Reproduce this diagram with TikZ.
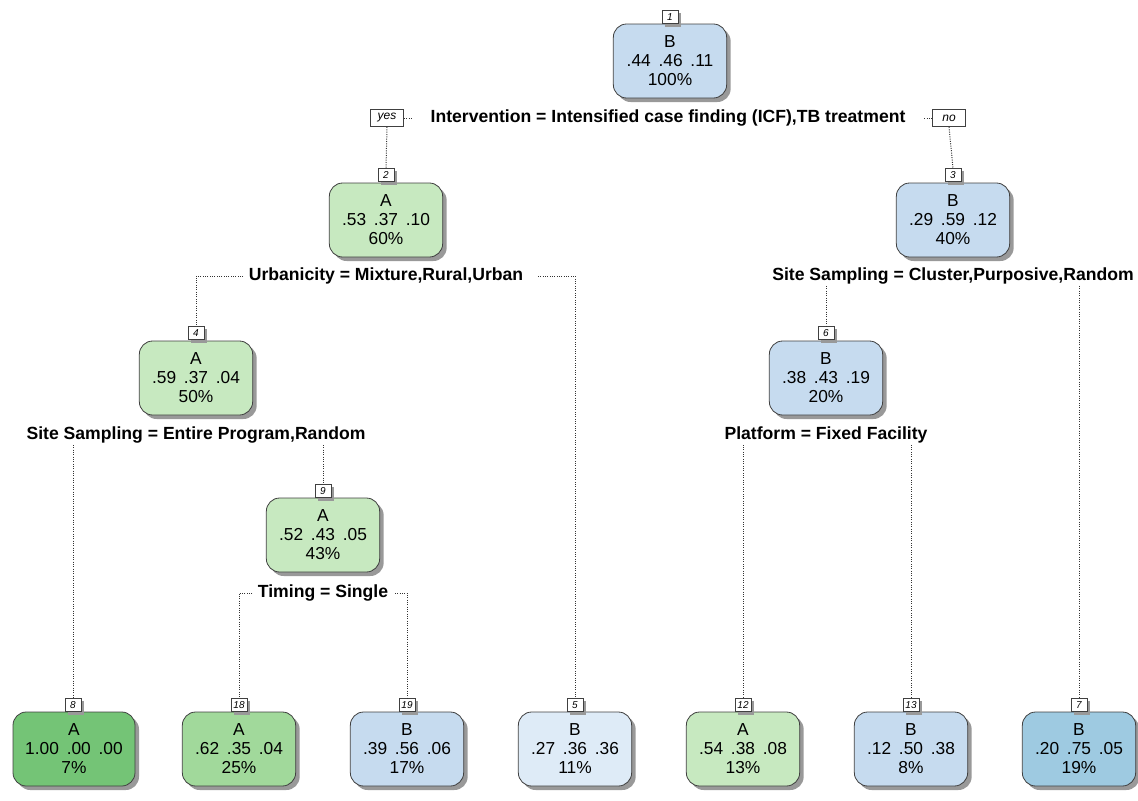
\documentclass[tikz,border=0pt]{standalone}
\usepackage{fontspec}
\setmainfont{Liberation Sans}
\usetikzlibrary{shadows}
\definecolor{gL}{HTML}{C7E9C0}
\definecolor{gM}{HTML}{A1D99B}
\definecolor{gD}{HTML}{74C476}
\definecolor{bM}{HTML}{C6DBEF}
\definecolor{bL}{HTML}{DEEBF7}
\definecolor{bD}{HTML}{9ECAE1}
\newcommand{\gp}{\hspace{0.45em}}
\tikzset{
  nodebox/.style={draw=black!75, line width=0.6pt, rounded corners=10pt, minimum width=85pt, minimum height=55.5pt, align=center, inner sep=2pt,
    font=\fontsize{13}{14.25}\selectfont,
    drop shadow={shadow xshift=3pt,shadow yshift=-3pt,fill=black!40,opacity=1}},
  numbox/.style={draw=black!75, fill=white, line width=0.5pt, inner sep=1pt, minimum width=12pt, minimum height=10pt,
    font=\fontsize{7.5}{8}\selectfont\itshape,
    drop shadow={shadow xshift=2.2pt,shadow yshift=-2.2pt,fill=black!40,opacity=1}},
  yesno/.style={draw=black!75, fill=white, line width=0.5pt, inner sep=1.5pt, minimum height=13pt, minimum width=25pt,
    font=\fontsize{9}{10}\selectfont\itshape},
  splitlbl/.style={font=\bfseries\fontsize{13.2}{14}\selectfont, inner sep=1pt},
  branch/.style={densely dotted, line width=0.75pt, black!80}
}
\begin{document}
\begin{tikzpicture}[x=0.75pt,y=-0.75pt]
\useasboundingbox (0,0) rectangle (1138,800);
% internal nodes
\node[nodebox, fill=bM] (n1) at (670,61) {B\\.44\gp.46\gp.11\\100\%};
\node[numbox] (l1) at (670,17) {1};
\node[nodebox, fill=gL] (n2) at (386,220) {A\\.53\gp.37\gp.10\\60\%};
\node[numbox] (l2) at (386,175) {2};
\node[nodebox, fill=bM] (n3) at (953,220) {B\\.29\gp.59\gp.12\\40\%};
\node[numbox] (l3) at (953,175) {3};
\node[nodebox, fill=gL] (n4) at (196,378) {A\\.59\gp.37\gp.04\\50\%};
\node[numbox] (l4) at (196,333) {4};
\node[nodebox, fill=bM] (n6) at (826,378) {B\\.38\gp.43\gp.19\\20\%};
\node[numbox] (l6) at (826,333) {6};
\node[nodebox, fill=gL] (n9) at (323,535) {A\\.52\gp.43\gp.05\\43\%};
\node[numbox] (l9) at (323,491) {9};
% leaves
\node[nodebox, fill=gD, minimum width=91.5pt] (n8) at (74,749) {A\\1.00\gp.00\gp.00\\7\%};
\node[numbox] (l8) at (73,705) {8};
\node[nodebox, fill=gM] (n18) at (239,749) {A\\.62\gp.35\gp.04\\25\%};
\node[numbox] (l18) at (239,705) {18};
\node[nodebox, fill=bM] (n19) at (407,749) {B\\.39\gp.56\gp.06\\17\%};
\node[numbox] (l19) at (407,705) {19};
\node[nodebox, fill=bL] (n5) at (575,749) {B\\.27\gp.36\gp.36\\11\%};
\node[numbox] (l5) at (575,705) {5};
\node[nodebox, fill=gL] (n12) at (743,749) {A\\.54\gp.38\gp.08\\13\%};
\node[numbox] (l12) at (743,705) {12};
\node[nodebox, fill=bM] (n13) at (911,749) {B\\.12\gp.50\gp.38\\8\%};
\node[numbox] (l13) at (911,705) {13};
\node[nodebox, fill=bD] (n7) at (1079,749) {B\\.20\gp.75\gp.05\\19\%};
\node[numbox] (l7) at (1079,705) {7};
% split labels
\node[splitlbl] (s1) at (668,118) {Intervention = Intensified case finding (ICF),TB treatment};
\node[yesno] (yes) at (387,118) {yes};
\node[yesno] (no) at (949,118) {no};
\node[splitlbl] (s2) at (386,276) {Urbanicity = Mixture,Rural,Urban};
\node[splitlbl] (s3) at (953,276) {Site Sampling = Cluster,Purposive,Random};
\node[splitlbl] (s4) at (196,435) {Site Sampling = Entire Program,Random};
\node[splitlbl] (s6) at (826,435) {Platform = Fixed Facility};
\node[splitlbl] (s9) at (323,593) {Timing = Single};
% branches
\draw[branch, shorten >=13pt] (yes.east) -- (s1.west);
\draw[branch, shorten <=13pt] (s1.east) -- (no.west);
\draw[branch] (yes.south) -- (l2.north);
\draw[branch] (no.south) -- (l3.north);
\draw[branch, shorten <=3pt] (s2.west) -| (l4.north);
\draw[branch, shorten <=10pt] (s2.east) -| (l5.north);
\draw[branch] (l6.north |- s3.south) -- (l6.north);
\draw[branch] (l7.north |- s3.south) -- (l7.north);
\draw[branch] (l8.north |- s4.south) -- (l8.north);
\draw[branch] (l9.north |- s4.south) -- (l9.north);
\draw[branch] (l12.north |- s6.south) -- (l12.north);
\draw[branch] (l13.north |- s6.south) -- (l13.north);
\draw[branch, shorten <=3pt] (s9.west) -| (l18.north);
\draw[branch, shorten <=4pt] (s9.east) -| (l19.north);
\end{tikzpicture}
\end{document}
